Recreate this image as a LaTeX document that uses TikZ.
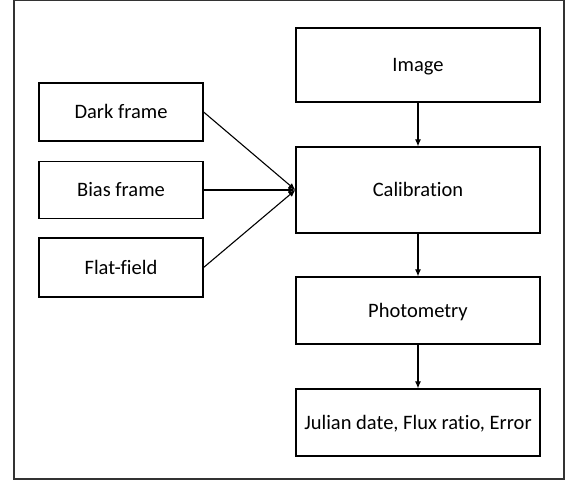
\documentclass[tikz,border=0pt]{standalone}
\usepackage{fontspec}
\setmainfont{Carlito}[Ligatures={NoCommon}]
\usetikzlibrary{arrows.meta}
\begin{document}
\begin{tikzpicture}[x=1pt,y=-1pt,
  box/.style={draw=black,line width=1.2pt,fill=white,inner sep=0pt,text height=13.2pt,text depth=0pt,font=\fontsize{20.5}{24}\selectfont},
  arr/.style={line width=1.1pt,-{Latex[length=7pt,width=6pt]}}]
\useasboundingbox (0,0) rectangle (579,481);
\draw[line width=1.3pt,draw=black!80] (14,0.7) rectangle (564,479);
\node[box,minimum width=164pt,minimum height=58pt] (dark) at (121,112) {Dark frame};
\node[box,minimum width=164pt,minimum height=57pt] (bias) at (121,190) {Bias frame};
\node[box,minimum width=164pt,minimum height=59pt] (flat) at (121,267.5) {Flat-field};
\node[box,minimum width=244pt,minimum height=74pt] (image) at (418,65) {Image};
\node[box,minimum width=244pt,minimum height=86pt] (calib) at (418,190) {Calibration};
\node[box,minimum width=244pt,minimum height=67pt] (phot) at (418,310.5) {Photometry};
\node[box,minimum width=244pt,minimum height=67pt] (jul) at (418,422.5) {Julian date, Flux ratio, Error};
\draw[arr] (dark.east) -- (calib.west);
\draw[arr] (bias.east) -- (calib.west);
\draw[arr] (flat.east) -- (calib.west);
\draw[arr] (image) -- (calib);
\draw[arr] (calib) -- (phot);
\draw[arr] (phot) -- (jul);
\end{tikzpicture}
\end{document}
